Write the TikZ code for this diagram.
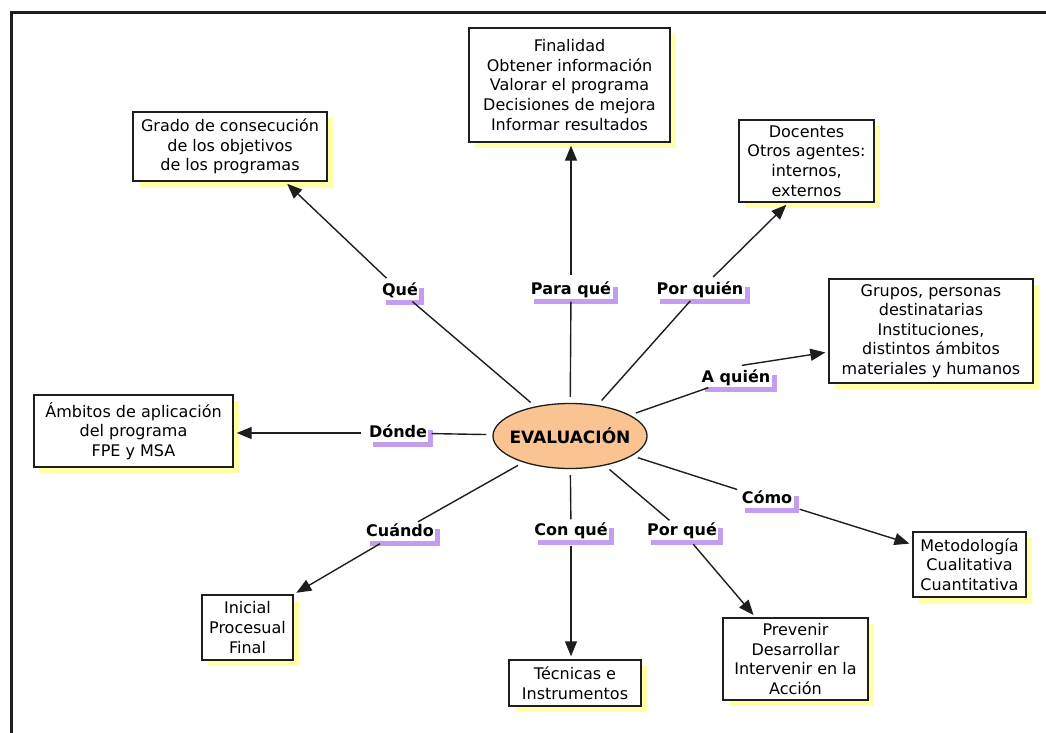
\documentclass[tikz,border=0pt]{standalone}
\usepackage{fontspec}
\setmainfont{DejaVu Sans}
\usetikzlibrary{shapes.geometric,arrows.meta,shadows}

\definecolor{peach}{RGB}{249,195,146}
\definecolor{lilac}{RGB}{196,158,238}
\definecolor{paleyellow}{RGB}{255,255,168}
\definecolor{ink}{RGB}{30,30,30}

\tikzset{
  infobox/.style={draw=ink, line width=1.4pt, fill=white, align=center,
    inner sep=0pt, font=\fontsize{16}{19.6}\selectfont,
    drop shadow={shadow xshift=6pt, shadow yshift=-6pt, fill=paleyellow, opacity=1}},
  askbox/.style={fill=white, inner xsep=1.5pt, inner ysep=1pt,
    text height=12pt, text depth=3pt, font=\fontsize{16}{19}\selectfont\bfseries,
    drop shadow={shadow xshift=5pt, shadow yshift=-5pt, fill=lilac, opacity=1}},
  core/.style={ellipse, draw=ink, line width=1.3pt, fill=peach,
    minimum width=154pt, minimum height=65pt, inner xsep=-6pt, inner ysep=0pt,
    font=\fontsize{17}{19}\selectfont\bfseries},
  link/.style={draw=ink, line width=1.4pt, shorten <=6pt, shorten >=3pt},
  arrowlink/.style={link, -{Triangle[length=15pt,width=12pt]}}
}

\begin{document}
\begin{tikzpicture}[x=1pt,y=-1pt]
\useasboundingbox (0,0) rectangle (1046,733);

% outer frame
\draw[line width=3pt, ink] (11,760) -- (11,13) -- (1080,13);

% central concept
\node[core] (ev) at (570,436) {EVALUACIÓN};

% answer boxes
\node[infobox, minimum width=201pt, minimum height=114pt] (fin) at (569.5,85)
  {Finalidad\\Obtener información\\Valorar el programa\\Decisiones de mejora\\Informar resultados};
\node[infobox, minimum width=194pt, minimum height=69pt] (grado) at (230,146.5)
  {Grado de consecución\\de los objetivos\\de los programas};
\node[infobox, minimum width=135pt, minimum height=82pt] (doc) at (806.5,161)
  {Docentes\\Otros agentes:\\internos,\\externos};
\node[infobox, minimum width=204pt, minimum height=104pt] (grupos) at (931,331)
  {Grupos, personas\\destinatarias\\Instituciones,\\distintos ámbitos\\materiales y humanos};
\node[infobox, minimum width=199pt, minimum height=72pt] (amb) at (133.5,431)
  {Ámbitos de aplicación\\del programa\\FPE y MSA};
\node[infobox, minimum width=113pt, minimum height=65pt] (met) at (969.5,564.5)
  {Metodología\\Cualitativa\\Cuantitativa};
\node[infobox, minimum width=91pt, minimum height=65pt] (ini) at (247.5,627.5)
  {Inicial\\Procesual\\Final};
\node[infobox, minimum width=132pt, minimum height=46pt] (tec) at (575,683)
  {Técnicas e\\Instrumentos};
\node[infobox, minimum width=145pt, minimum height=82pt] (prev) at (795.5,659)
  {Prevenir\\Desarrollar\\Intervenir en la\\Acción};

% question labels
\node[askbox] (que) at (400,291) {Qué};
\node[askbox] (paraque) at (571,290) {Para qué};
\node[askbox] (porquien) at (700,290) {Por quién};
\node[askbox] (aquien) at (736,378) {A quién};
\node[askbox] (donde) at (398,433) {Dónde};
\node[askbox] (cuando) at (400,532) {Cuándo};
\node[askbox] (conque) at (571,531) {Con qué};
\node[askbox] (porque) at (682,531) {Por qué};
\node[askbox] (como) at (767,499) {Cómo};

% centre to questions
\foreach \q in {que,paraque,porquien,aquien,donde,cuando,conque,porque,como}
  \draw[link] (ev) -- (\q);

% questions to answers
\draw[arrowlink] (que) -- ([xshift=55pt]grado.south);
\draw[arrowlink] (paraque) -- (paraque |- fin.south);
\draw[arrowlink] (porquien) -- ([xshift=-18pt]doc.south);
\draw[arrowlink] ([yshift=3pt]aquien.north) -- ([yshift=-21pt]grupos.west);
\draw[arrowlink] (donde) -- (donde -| amb.east);
\draw[arrowlink] (cuando) -- (ini.north east);
\draw[arrowlink] (conque) -- (conque |- tec.north);
\draw[arrowlink] (porque) -- ([xshift=-40pt]prev.north);
\draw[arrowlink] (como) -- ([yshift=20pt]met.west);
\end{tikzpicture}
\end{document}
